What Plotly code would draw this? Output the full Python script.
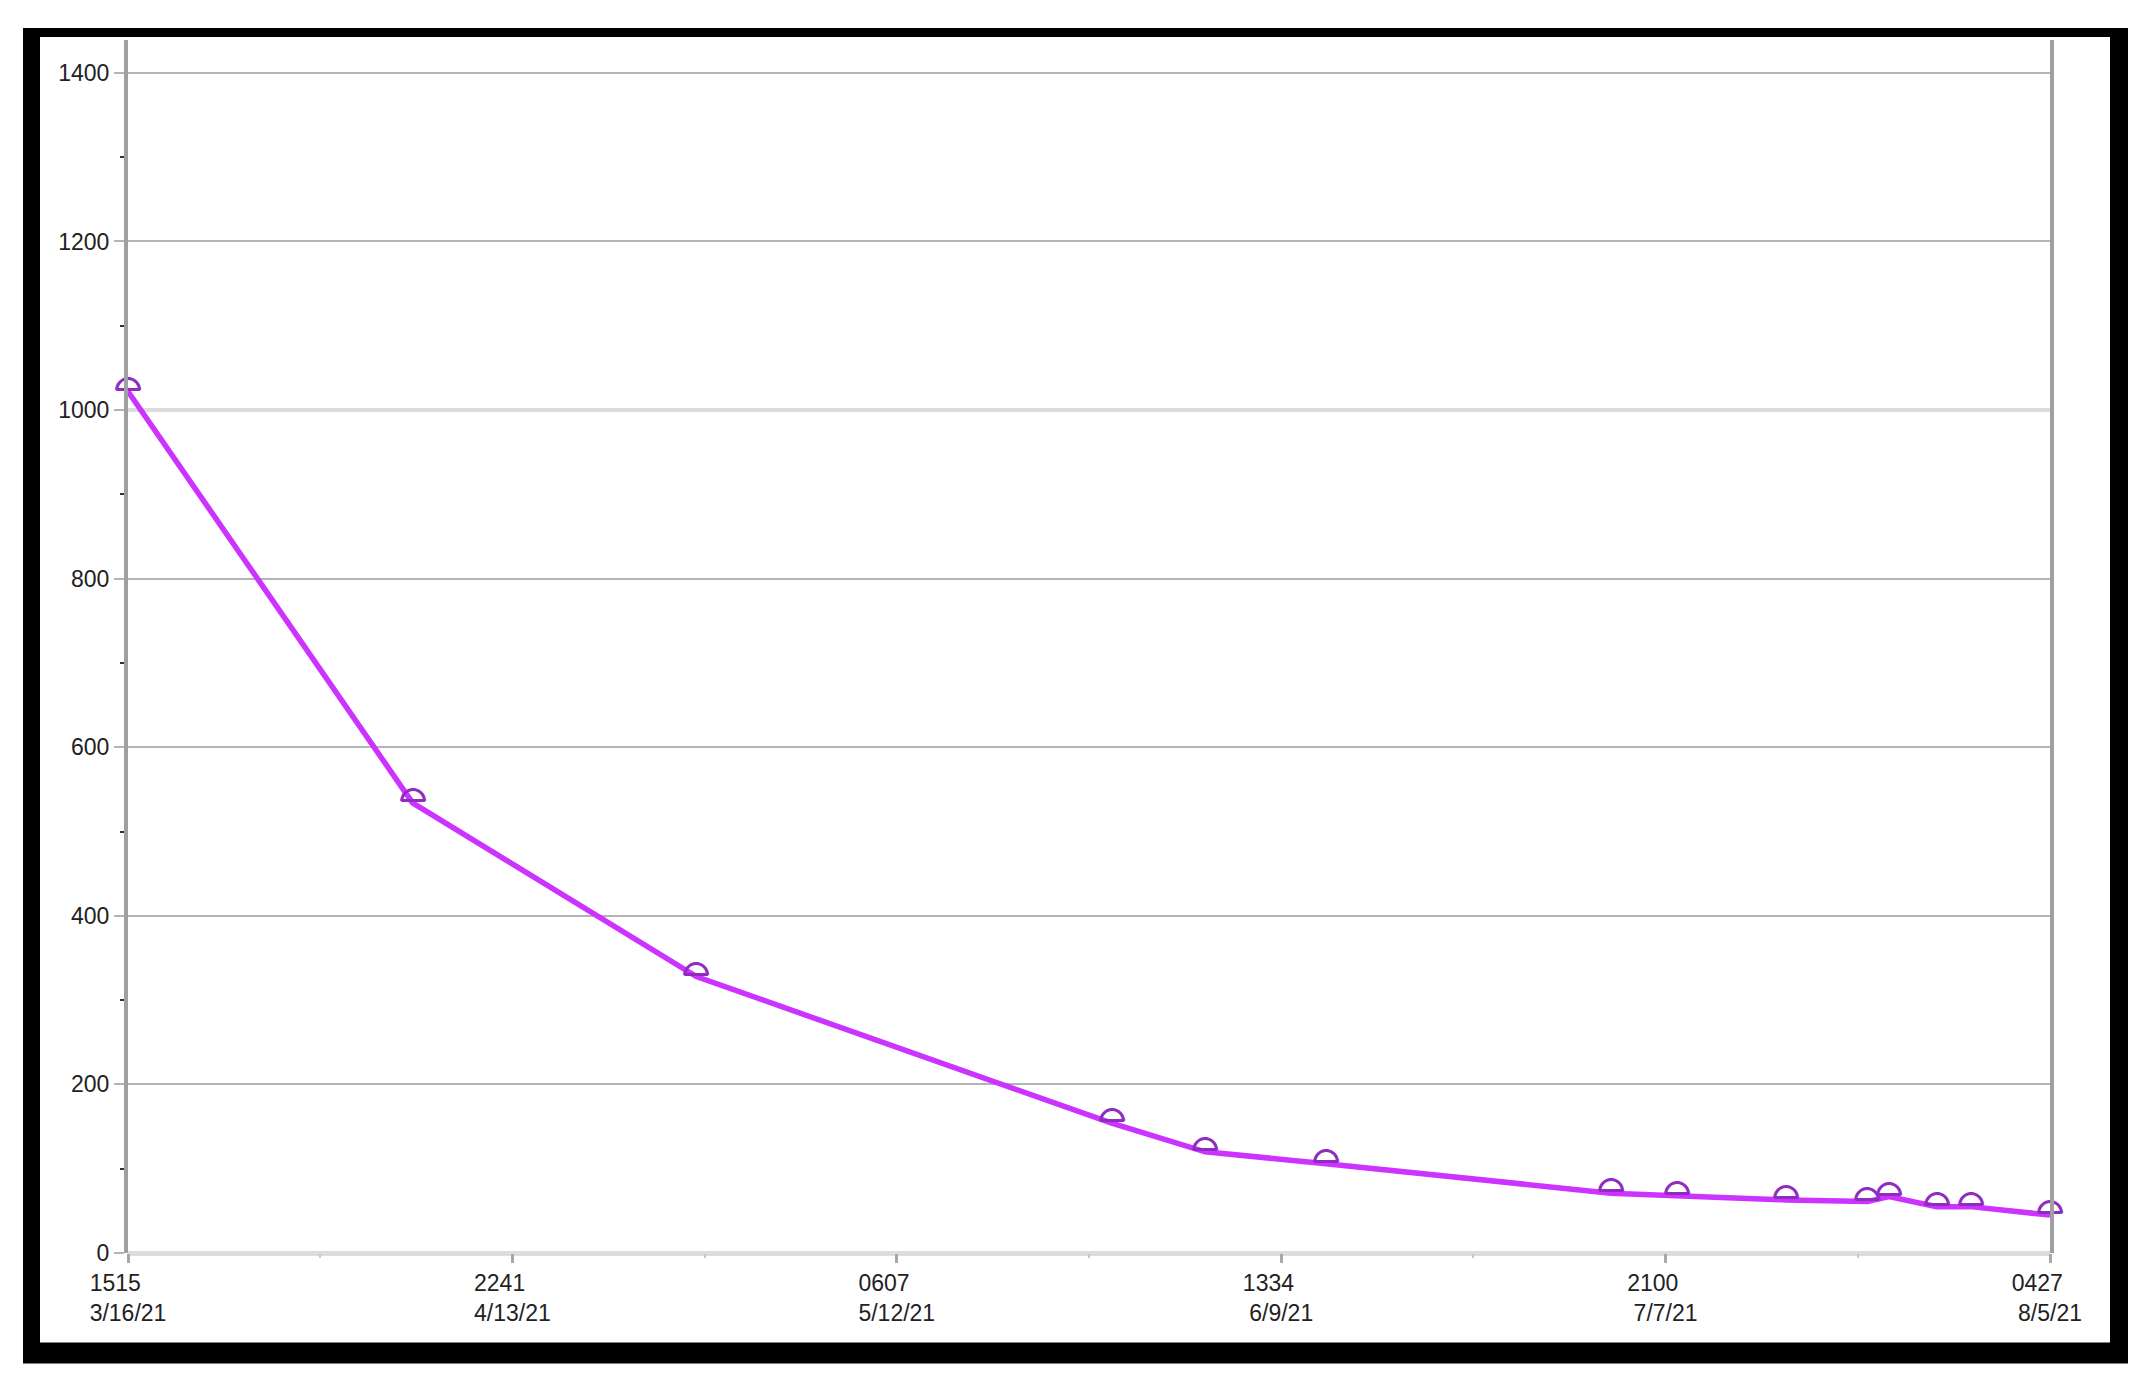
import plotly.graph_objects as go
import pandas as pd

# ---- data ----
times = [
    "2021-03-16 15:15", "2021-04-06 14:15", "2021-04-27 11:50", "2021-05-28 02:05",
    "2021-06-03 23:10", "2021-06-12 21:00", "2021-07-03 20:05", "2021-07-08 16:30",
    "2021-07-16 17:40", "2021-07-22 17:40", "2021-07-24 08:00", "2021-07-27 20:05",
    "2021-07-30 08:00", "2021-08-05 04:27",
]
values = [1022, 534, 328, 154, 120, 106, 71, 68, 63, 61, 67, 55, 55, 45]

tick_times = ["2021-03-16 15:15", "2021-04-13 22:41", "2021-05-12 06:07",
              "2021-06-09 13:34", "2021-07-07 21:00", "2021-08-05 04:27"]
tick_hhmm = ["1515", "2241", "0607", "1334", "2100", "0427"]
tick_dates = ["3/16/21", "4/13/21", "5/12/21", "6/9/21", "7/7/21", "8/5/21"]

y_ticks = [0, 200, 400, 600, 800, 1000, 1200, 1400]
y_light_grid = [1000]

# ---- derived ----
tt = pd.to_datetime(tick_times)
minor_vals = [(tt[i] + (tt[i + 1] - tt[i]) / 2).strftime("%Y-%m-%d %H:%M:%S") for i in range(len(tt) - 1)]
pad = "\u00a0" * 4
tick_text = [f"{h}{pad}<br>{d}" for h, d in zip(tick_hhmm, tick_dates)]

W, H = 2135, 1367
ML, MR, MT, MB = 120, 93, 32, 121.5
pw, ph = W - ML - MR, H - MT - MB
Y_RANGE = [0, 1439]

def px(x):
    return (x - ML) / pw

def py(y):
    return (H - MB - y) / ph

LINE = "#cc33ff"
MARK = "#8e2cbf"
FONT = "Liberation Sans, Arial, sans-serif"
SH = f"1px 0 0 {MARK}, -1px 0 0 {MARK}, 0 -1px 0 {MARK}, 0 1px 0 {MARK}"

fig = go.Figure()
fig.add_trace(go.Scatter(
    x=times, y=values, mode="lines", line=dict(color=LINE, width=5.5),
    cliponaxis=False, showlegend=False,
))
fig.add_trace(go.Scatter(
    x=times, y=values, mode="text", text=["<sub>\u2313</sub>"] * len(values),
    textposition="top center", yaxis="y2",
    textfont=dict(family="DejaVu Sans", size=47, color=MARK, shadow=SH),
    cliponaxis=False, hoverinfo="skip", showlegend=False,
))

# black frame + white interior
fig.add_shape(type="rect", xref="paper", yref="paper",
              x0=px(15), x1=px(2120), y0=py(1356), y1=py(20),
              fillcolor="black", line=dict(width=0), layer="below")
fig.add_shape(type="rect", xref="paper", yref="paper",
              x0=px(32), x1=px(2102), y0=py(1335), y1=py(29),
              fillcolor="white", line=dict(width=0), layer="below")

fig.update_layout(
    width=W, height=H,
    margin=dict(l=ML, r=MR, t=MT, b=MB, pad=0),
    paper_bgcolor="white", plot_bgcolor="rgba(0,0,0,0)",
    font=dict(family=FONT, size=23, color="#222222"),
    showlegend=False,
    yaxis2=dict(overlaying="y", range=Y_RANGE, tickmode="array", tickvals=y_light_grid,
                showticklabels=False, ticks="", showgrid=True, gridcolor="#dcdcdc",
                gridwidth=4, zeroline=False, showline=False),
)
fig.update_xaxes(
    type="date", range=[tick_times[0], tick_times[-1]],
    tickmode="array", tickvals=tick_times, ticktext=tick_text,
    ticks="outside", ticklen=9, tickwidth=3, tickcolor="#a8a8a8",
    showgrid=False, showline=False, zeroline=False,
    minor=dict(tickvals=minor_vals, ticks="outside", ticklen=4, tickwidth=2, tickcolor="#c8c8c8", showgrid=False),
    tickfont=dict(family=FONT, size=23, color="#222222"),
)
fig.update_layout(yaxis=dict(
    range=Y_RANGE, tickmode="array", tickvals=y_ticks,
    ticks="outside", ticklen=10, tickwidth=2, tickcolor="#b4b4b4",
    showgrid=True, gridcolor="#b4b4b4", gridwidth=2,
    zeroline=True, zerolinecolor="#dcdcdc", zerolinewidth=5,
    showline=True, linecolor="#a0a0a0", linewidth=4, mirror=True,
    minor=dict(dtick=100, ticks="outside", ticklen=4, tickwidth=2, tickcolor="#333333", showgrid=False),
    tickfont=dict(family=FONT, size=23, color="#222222"),
))

fig.write_html("out.html")
